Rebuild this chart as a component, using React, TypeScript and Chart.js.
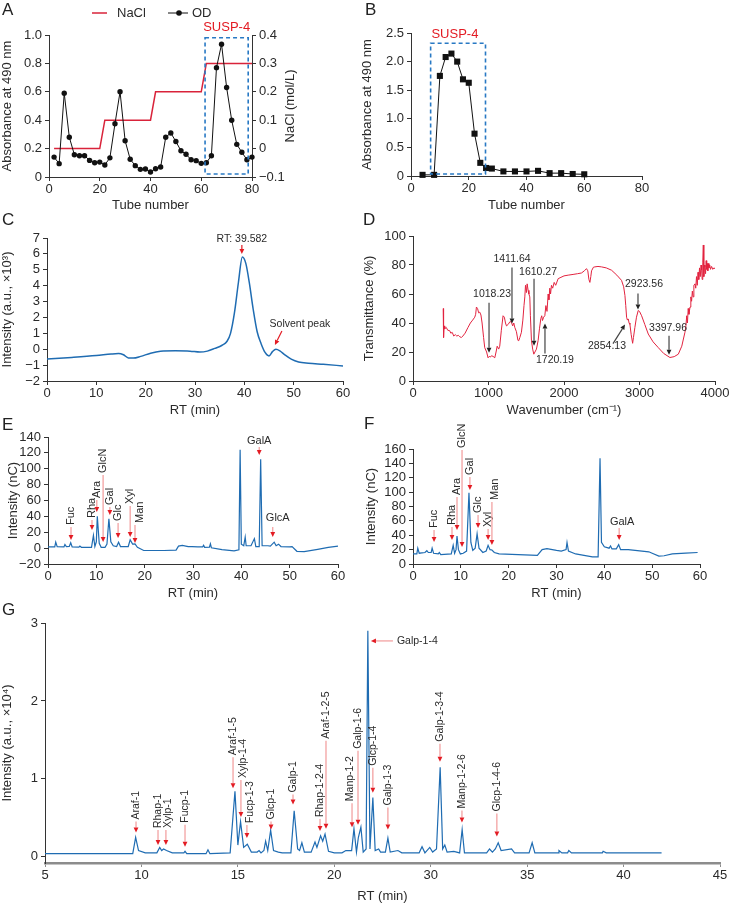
import React, { useEffect, useRef } from 'react';
import { Chart, registerables } from 'chart.js';

Chart.register(...registerables);

const FONT = "'Liberation Sans', Arial, Helvetica, sans-serif";
const TEXT = '#2a2a2a';
const AXIS = '#333333';
const BLUE = '#1f6cb2';
const RED = '#e31b23';
const PINK = '#f29a9a';
const IR_RED = '#e2233f';
const NACL_RED = '#d9233a';
const BOX_BLUE = '#2879c4';

// ---------------- Panel A: DEAE elution ----------------
const A_TUBES = [2, 4, 6, 8, 10, 12, 14, 16, 18, 20, 22, 24, 26, 28, 30, 32, 34, 36, 38, 40, 42, 44, 46, 48, 50, 52, 54, 56, 58, 60, 62, 64, 66, 68, 70, 72, 74, 76, 78, 80];
const A_OD = [0.14, 0.094, 0.59, 0.28, 0.157, 0.15, 0.15, 0.117, 0.1, 0.105, 0.085, 0.135, 0.375, 0.6, 0.255, 0.125, 0.08, 0.054, 0.056, 0.035, 0.058, 0.07, 0.28, 0.31, 0.25, 0.185, 0.16, 0.122, 0.115, 0.096, 0.1, 0.15, 0.77, 0.935, 0.63, 0.4, 0.23, 0.174, 0.122, 0.14];
const A_NACL_TUBES = [2, 20, 22, 40, 42, 60, 62, 80];
const A_NACL = [0, 0, 0.1, 0.1, 0.2, 0.2, 0.3, 0.3];
const A_BOX = { x0: 61.5, x1: 78.5, y0: 0.021, y1: 0.981 };

// ---------------- Panel B: gel filtration ----------------
const B_TUBES = [4, 8, 10, 12, 14, 16, 18, 20, 22, 24, 26, 28, 32, 36, 40, 44, 48, 52, 56, 60];
const B_OD = [0.02, 0.02, 1.75, 2.08, 2.14, 2.0, 1.69, 1.63, 0.74, 0.23, 0.14, 0.13, 0.08, 0.08, 0.08, 0.09, 0.05, 0.05, 0.035, 0.03];
const B_BOX = { x0: 6.8, x1: 25.8, y0: 0.035, y1: 2.32 };

// ---------------- Panel C: HPGPC ----------------
const C_CURVE = [
  [0, -0.62], [5, -0.52], [10, -0.4], [13, -0.3], [14.5, -0.27], [15.5, -0.35], [16.5, -0.55], [17.5, -0.56],
  [19, -0.45], [21, -0.25], [23, -0.13], [26, -0.1], [29, -0.12], [31, -0.18], [32.5, -0.12], [34, 0.05],
  [35.5, 0.25], [36.5, 0.5], [37.2, 1.0], [38, 2.3], [38.8, 4.2], [39.6, 5.8], [40.3, 5.4], [41, 4.2],
  [41.8, 2.5], [42.6, 1.1], [43.4, 0.35], [44.2, -0.2], [45, -0.42], [45.7, -0.15], [46.4, 0.0], [47.2, -0.1],
  [48.2, -0.35], [49.5, -0.62], [51, -0.8], [53, -0.88], [56, -0.95], [60, -1.05],
];

// ---------------- Panel D: FT-IR ----------------
const D_SPECTRUM = [
  [400, 50], [405, 30], [412, 38], [420, 36], [440, 37], [460, 35], [486, 34.7], [500, 33], [520, 33.5], [540, 31],
  [560, 32], [580, 31], [600, 31.5], [620, 30.5], [641, 30], [660, 31], [690, 33], [729, 37], [760, 40], [790, 42],
  [818, 44], [830, 46], [840, 51], [855, 50], [870, 47], [884, 47.5], [900, 45.5], [915, 40], [935, 30], [950, 23],
  [975, 20], [994, 16], [1010, 17], [1025, 16.5], [1039, 17.4], [1060, 17], [1083, 16], [1100, 20], [1115, 24], [1135, 22],
  [1149, 24], [1170, 35], [1193, 45], [1210, 44], [1225, 40], [1238, 38], [1260, 39], [1285, 41], [1304, 40.5], [1320, 38],
  [1335, 40], [1348, 37], [1370, 34], [1390, 28], [1401, 27.8], [1415, 30], [1436, 33.6], [1455, 42], [1470, 52], [1481, 58],
  [1490, 66], [1503, 61], [1512, 67], [1525, 62.5], [1535, 60], [1547, 58], [1555, 45], [1569, 27.8], [1585, 22], [1600, 18.5],
  [1615, 20], [1635, 22], [1657, 27.8], [1675, 36], [1693, 43], [1705, 45], [1715, 41.7], [1730, 44], [1746, 45], [1760, 52],
  [1775, 48], [1790, 60], [1800, 56], [1812, 64], [1822, 60], [1834, 66], [1850, 64], [1870, 68], [1890, 66], [1923, 70.6],
  [1960, 71.5], [2000, 72.5], [2055, 73], [2120, 73.5], [2180, 74], [2232, 74.5], [2270, 76], [2298, 77.5], [2315, 76], [2330, 70],
  [2343, 68], [2355, 72], [2365, 76], [2390, 78.5], [2409, 78.7], [2450, 79], [2497, 78.7], [2560, 78], [2630, 76.4], [2700, 73],
  [2762, 69.4], [2790, 65], [2807, 59], [2818, 52], [2829, 44], [2840, 42], [2851, 42.8], [2862, 40], [2873, 39], [2890, 32],
  [2909, 26], [2920, 30], [2939, 37], [2960, 44], [2983, 48.6], [3000, 48], [3028, 45], [3070, 39], [3116, 32.4], [3180, 27],
  [3249, 23], [3320, 19], [3403, 16.2], [3460, 16.8], [3514, 18.5], [3560, 24], [3602, 33.6], [3615, 38], [3625, 45], [3635, 40],
  [3645, 50], [3655, 46], [3669, 51], [3680, 58], [3690, 55], [3700, 62], [3710, 58], [3720, 66], [3735, 67], [3745, 64],
  [3755, 72], [3765, 66], [3775, 75], [3785, 70], [3795, 78], [3805, 72], [3815, 80], [3823, 76.4], [3830, 70], [3838, 82],
  [3845, 93.8], [3852, 72], [3860, 80], [3867, 78.7], [3875, 74], [3883, 83], [3890, 77], [3898, 81], [3905, 76], [3912, 81],
  [3920, 78], [3930, 80], [3940, 77], [3955, 79], [3970, 77], [3985, 78], [4000, 77.5],
];

// ---------------- Panel E: monosaccharide standards ----------------
const E_SIGNAL = [
  [0, 1.5], [1.4, 1.5], [1.6, 7.5], [1.9, 1.8], [3.3, 1.5], [3.5, 4.6], [3.8, 1.8], [4.4, 2], [4.7, 6.7], [5.0, 1.5],
  [6.4, 1.2], [6.6, 2.5], [6.9, 1], [9.0, 1], [9.4, 16], [9.7, 2], [10.0, 8], [10.2, 40], [10.6, 6], [11.0, 1],
  [11.8, 1], [12.2, 5], [12.6, 37], [13.0, 8], [13.5, 3], [14.2, 2], [14.6, 7.5], [15.0, 2], [16.6, 2], [17.0, 10.5],
  [17.5, 5], [18.0, 5.4], [18.5, 1], [19.8, -3], [21, -3], [24, -3], [26.5, -2.5], [27.0, 2.5], [27.8, 3.5], [29.0, 2],
  [29.8, 2], [31.0, 1.5], [32.0, 1.5], [32.2, 3.5], [32.4, 1], [33.4, 1.2], [33.6, 5.4], [33.8, 0.5], [36, -2], [38.5, -3.5],
  [39.5, -2], [39.75, 124], [40.0, 5], [40.5, 3], [40.8, 14], [41.0, 3], [42.0, 3], [42.7, 12], [43.0, 2], [43.7, 2],
  [44.0, 112], [44.3, 3], [45.5, 3], [46.0, 2.5], [46.8, 7.5], [47.2, 3], [47.7, 5], [48.2, 2], [50.0, 1.5], [50.5, 2],
  [51.5, -4], [53, -4.5], [55.8, -1.5], [58, 1], [60, 2.5],
];

// ---------------- Panel F: SUSP-4 hydrolysate ----------------
const F_SIGNAL = [
  [0, 14], [0.8, 14], [1.0, 22], [1.3, 15], [2.5, 16], [2.9, 18.5], [3.2, 16], [3.8, 16], [4.0, 22], [4.3, 15],
  [5.3, 14], [5.5, 16], [5.8, 13], [8.0, 14], [8.4, 26], [8.7, 15], [9.0, 20], [9.2, 39], [9.5, 20], [9.9, 14],
  [10.5, 15], [11.2, 18], [11.7, 99], [12.1, 30], [12.5, 19], [13.0, 22], [13.4, 42], [13.8, 22], [14.6, 16], [15.3, 18],
  [15.7, 26], [16.1, 20], [16.5, 19.5], [17, 16], [18, 14], [22, 13], [26, 12], [27, 20], [28, 21.5], [30, 19],
  [31, 18], [32, 20], [32.2, 30], [32.5, 18], [34, 14], [37.5, 10], [38.7, 10], [39.1, 147], [39.4, 30], [40, 24],
  [41, 22], [41.3, 25], [41.6, 21], [42.5, 21], [43, 27], [43.4, 20], [45, 20], [49.3, 17], [50, 15], [51.4, 11],
  [52.5, 11.5], [54.2, 14], [57, 15], [59.5, 16],
];

// ---------------- Panel G: GC-MS methylation ----------------
const G_TICK_LABELS = ['5', '10', '15', '20', '30', '35', '40', '45'];
const G_SIGNAL = [
  [5, 0.04], [9.55, 0.04], [9.7, 0.25], [9.85, 0.08], [10.2, 0.05], [10.8, 0.05], [10.95, 0.12], [11.05, 0.08], [11.15, 0.1], [11.3, 0.08],
  [11.6, 0.05], [12.2, 0.05], [12.26, 0.07], [12.35, 0.04], [13.35, 0.04], [13.45, 0.09], [13.55, 0.04], [14.6, 0.05], [14.85, 0.84], [15.0, 0.15],
  [15.14, 0.45], [15.3, 0.12], [15.49, 0.16], [15.7, 0.06], [16.0, 0.06], [16.1, 0.08], [16.2, 0.05], [16.35, 0.08], [16.44, 0.2], [16.55, 0.08],
  [16.7, 0.34], [16.85, 0.08], [17.1, 0.06], [17.3, 0.05], [17.75, 0.05], [17.92, 0.59], [18.1, 0.1], [18.2, 0.08], [18.32, 0.18], [18.45, 0.06],
  [18.8, 0.06], [19.0, 0.19], [19.1, 0.12], [19.29, 0.27], [19.4, 0.2], [19.52, 0.29], [19.7, 0.07], [20.0, 0.05], [20.4, 0.05], [20.6, 0.08],
  [20.9, 0.08], [21.02, 0.36], [21.15, 0.06], [21.25, 0.25], [21.38, 0.38], [21.5, 0.06], [21.65, 0.1], [21.74, 2.9], [21.85, 0.1], [22.0, 0.76],
  [22.12, 0.08], [22.3, 0.1], [22.4, 0.06], [22.65, 0.06], [22.78, 0.24], [22.9, 0.06], [23.3, 0.08], [23.5, 0.05], [24.4, 0.05], [24.55, 0.13],
  [24.7, 0.05], [24.95, 0.12], [25.1, 0.06], [25.3, 0.1], [25.49, 1.15], [25.62, 0.1], [25.73, 0.15], [25.85, 0.06], [26.2, 0.07], [26.5, 0.05],
  [26.63, 0.35], [26.75, 0.05], [27.9, 0.05], [28.05, 0.1], [28.2, 0.06], [28.35, 0.1], [28.5, 0.18], [28.65, 0.08], [29.19, 0.1], [29.35, 0.05],
  [30.1, 0.05], [30.26, 0.18], [30.4, 0.05], [31.6, 0.05], [31.65, 0.08], [31.8, 0.05], [32.1, 0.05], [32.16, 0.08], [32.3, 0.05], [33.9, 0.05],
  [33.94, 0.07], [34.1, 0.05], [36.97, 0.05],
];

// ---------------- Annotations (data-space anchor + pixel offsets) ----------------
type Ann = { t: string; x: number; y: number; tail: [number, number]; text: [number, number]; rot?: boolean; align?: CanvasTextAlign };
const rotAnn = (t: string, x: number, y: number, len: number, dx = 0): Ann => ({ t, x, y, tail: [0, -len], text: [dx, -len - 2], rot: true });

const C_ANN: Ann[] = [
  { t: 'RT: 39.582', x: 39.5, y: 6.0, tail: [0, -9], text: [0, -15] },
  { t: 'Solvent peak', x: 46.2, y: 0.27, tail: [7, -14], text: [25, -21] },
];

const D_ANN: Ann[] = [
  { t: '1018.23', x: 1007, y: 19.4, tail: [0, -50], text: [3, -59] },
  { t: '1411.64', x: 1311, y: 39.6, tail: [0, -56], text: [0, -64] },
  { t: '1610.27', x: 1603, y: 24.3, tail: [0, -67], text: [4, -74] },
  { t: '1720.19', x: 1748, y: 39.6, tail: [0, 30], text: [10, 37] },
  { t: '2854.13', x: 2808, y: 38.9, tail: [-12, 19], text: [-18, 22] },
  { t: '2923.56', x: 2980, y: 49.3, tail: [0, -16], text: [6, -25] },
  { t: '3397.96', x: 3391, y: 18.1, tail: [0, -19], text: [-1, -27] },
];

const E_ANN: Ann[] = [
  rotAnn('Fuc', 4.76, 10.2, 13),
  rotAnn('Rha', 9.1, 22.8, 10),
  rotAnn('Ara', 10.1, 45.5, 12),
  rotAnn('GlcN', 11.4, 7.7, 67),
  rotAnn('Gal', 12.8, 41.7, 8),
  rotAnn('Glc', 14.5, 12.8, 15),
  rotAnn('Xyl', 17.0, 14.0, 31),
  rotAnn('Man', 18.0, 6.5, 18, 5),
  { t: 'GalA', x: 43.7, y: 117.3, tail: [0, -8], text: [0, -14] },
  { t: 'GlcA', x: 46.5, y: 14.0, tail: [0, -10], text: [5, -19] },
];

const F_ANN: Ann[] = [
  rotAnn('Fuc', 4.4, 30.6, 12),
  rotAnn('Rha', 8.15, 33.4, 13),
  rotAnn('Ara', 9.2, 47.3, 33),
  rotAnn('GlcN', 10.25, 23.7, 97),
  rotAnn('Gal', 11.9, 103, 13),
  rotAnn('Glc', 13.6, 50, 13),
  rotAnn('Xyl', 15.7, 33.4, 11),
  rotAnn('Man', 16.5, 26.4, 43, 3),
  { t: 'GalA', x: 43.1, y: 33.4, tail: [0, -12], text: [3, -18] },
];

const G_ANN: Ann[] = [
  rotAnn('Araf-1', 9.72, 0.31, 11),
  rotAnn('Rhap-1', 10.86, 0.15, 15),
  rotAnn('Xylp-1', 11.27, 0.15, 15, 2),
  rotAnn('Fucp-1', 12.26, 0.13, 22),
  rotAnn('Araf-1-5', 14.75, 0.88, 31),
  rotAnn('Xylp-1-4', 15.16, 0.51, 37, 2),
  rotAnn('Fucp-1-3', 15.47, 0.24, 13, 3),
  rotAnn('Glcp-1', 16.72, 0.35, 8),
  rotAnn('Galp-1', 17.86, 0.67, 10),
  rotAnn('Rhap-1-2-4', 19.26, 0.33, 12),
  rotAnn('Araf-1-2-5', 19.57, 0.36, 88),
  rotAnn('Manp-1-2', 20.92, 0.38, 24, -2),
  rotAnn('Galp-1-6', 21.23, 0.41, 74),
  rotAnn('Glcp-1-4', 22.0, 0.82, 25),
  rotAnn('Galp-1-3', 22.78, 0.35, 22),
  rotAnn('Galp-1-3-4', 25.48, 1.22, 18),
  rotAnn('Manp-1-2-6', 26.62, 0.44, 12),
  rotAnn('Glcp-1-4-6', 28.43, 0.26, 23),
  { t: 'Galp-1-4', x: 21.9, y: 2.77, tail: [22, 0], text: [26, 0], align: 'left' },
];

// ---------------- helpers ----------------
const fmt1 = (v: number) => (Math.abs(v) < 1e-9 ? '0' : v.toFixed(1).replace('-', '\u2212'));
const fmt0 = (v: number) => String(Math.round(v)).replace('-', '\u2212');
const pts = (xs: number[], ys: number[]) => xs.map((x, i) => ({ x, y: ys[i] }));
const pairs = (arr: number[][]) => arr.map(([x, y]) => ({ x, y }));

type AxisOpt = {
  pos: 'left' | 'right' | 'bottom'; min: number; max: number; step: number; fit: number;
  title?: string; fmt?: (v: number) => string; color?: string; width?: number; bounds?: boolean;
};
function axis(o: AxisOpt) {
  const horiz = o.pos === 'bottom';
  return {
    type: 'linear', position: o.pos, min: o.min, max: o.max,
    ticks: {
      stepSize: o.step, autoSkip: false, maxRotation: 0, minRotation: 0,
      includeBounds: o.bounds ?? true, padding: horiz ? 1 : 3, color: TEXT,
      font: { family: FONT, size: 13 },
      callback: (v: number) => (o.fmt ? o.fmt(v) : fmt0(v)),
    },
    grid: { display: true, drawOnChartArea: false, drawTicks: true, tickLength: 4, tickWidth: 1, color: o.color ?? AXIS, lineWidth: 1 },
    border: { display: true, color: o.color ?? AXIS, width: o.width ?? 1 },
    title: o.title
      ? { display: true, text: o.title, color: TEXT, font: { family: FONT, size: 13 }, padding: 0 }
      : { display: false },
    afterFit: (s: any) => { if (horiz) s.height = o.fit; else s.width = o.fit; },
  };
}

function baseOptions(top: number, right: number, scales: any) {
  return {
    responsive: false, maintainAspectRatio: false, animation: false, devicePixelRatio: 1, events: [],
    layout: { padding: { top, right, left: 0, bottom: 0 } },
    plugins: { legend: { display: false }, tooltip: { enabled: false }, title: { display: false } },
    scales,
  };
}

const line = (data: any[], color: string, width: number, extra: any = {}) => ({
  data, borderColor: color, backgroundColor: color, borderWidth: width, pointRadius: 0,
  tension: 0, fill: false, ...extra,
});

function drawArrow(ctx: CanvasRenderingContext2D, tx: number, ty: number, hx: number, hy: number, stem: string, head: string, hl = 5, hw = 2.4) {
  const ang = Math.atan2(hy - ty, hx - tx);
  const len = Math.hypot(hx - tx, hy - ty);
  const bx = hx - hl * Math.cos(ang);
  const by = hy - hl * Math.sin(ang);
  if (len > hl) {
    ctx.strokeStyle = stem; ctx.lineWidth = 1.2; ctx.setLineDash([]);
    ctx.beginPath(); ctx.moveTo(tx, ty); ctx.lineTo(bx, by); ctx.stroke();
  }
  ctx.fillStyle = head;
  ctx.beginPath();
  ctx.moveTo(hx, hy);
  ctx.lineTo(bx - hw * Math.sin(ang), by + hw * Math.cos(ang));
  ctx.lineTo(bx + hw * Math.sin(ang), by - hw * Math.cos(ang));
  ctx.closePath(); ctx.fill();
}

function drawAnns(chart: any, anns: Ann[], size: number, stem: string, head: string) {
  const ctx: CanvasRenderingContext2D = chart.ctx;
  const xs = chart.scales.x; const ys = chart.scales.y;
  ctx.save();
  ctx.font = `${size}px ${FONT}`;
  for (const a of anns) {
    const hx = xs.getPixelForValue(a.x); const hy = ys.getPixelForValue(a.y);
    drawArrow(ctx, hx + a.tail[0], hy + a.tail[1], hx, hy, stem, head);
    ctx.fillStyle = TEXT;
    ctx.textBaseline = 'middle';
    if (a.rot) {
      ctx.save();
      ctx.translate(hx + a.text[0], hy + a.text[1]);
      ctx.rotate(-Math.PI / 2);
      ctx.textAlign = 'left';
      ctx.fillText(a.t, 0, 0);
      ctx.restore();
    } else {
      ctx.textAlign = a.align ?? 'center';
      ctx.fillText(a.t, hx + a.text[0], hy + a.text[1]);
    }
  }
  ctx.restore();
}

function drawBox(chart: any, box: { x0: number; x1: number; y0: number; y1: number }, label: string, lx: number, ly: number, yId = 'y') {
  const ctx: CanvasRenderingContext2D = chart.ctx;
  const xs = chart.scales.x; const ys = chart.scales[yId];
  const x0 = xs.getPixelForValue(box.x0); const x1 = xs.getPixelForValue(box.x1);
  const y0 = ys.getPixelForValue(box.y0); const y1 = ys.getPixelForValue(box.y1);
  ctx.save();
  ctx.strokeStyle = BOX_BLUE; ctx.lineWidth = 1.6; ctx.setLineDash([4, 3]);
  ctx.strokeRect(x0, y1, x1 - x0, y0 - y1);
  ctx.setLineDash([]);
  ctx.fillStyle = RED; ctx.font = `13px ${FONT}`; ctx.textAlign = 'center'; ctx.textBaseline = 'middle';
  ctx.fillText(label, xs.getPixelForValue(lx), ys.getPixelForValue(ly));
  ctx.restore();
}

// ---------------- chart configs ----------------
const aConfig = () => ({
  type: 'line',
  data: {
    datasets: [
      line(pts(A_TUBES, A_OD), '#111', 1, { yAxisID: 'y', pointRadius: 2.7, pointBackgroundColor: '#111', pointBorderWidth: 0, clip: false }),
      line(pts(A_NACL_TUBES, A_NACL), NACL_RED, 1.5, { yAxisID: 'y2', clip: false }),
    ],
  },
  options: baseOptions(35, 0, {
    x: axis({ pos: 'bottom', min: 0, max: 80, step: 20, fit: 36, title: 'Tube number' }),
    y: axis({ pos: 'left', min: 0, max: 1, step: 0.2, fit: 49, title: 'Absorbance at 490 nm', fmt: fmt1 }),
    y2: axis({ pos: 'right', min: -0.1, max: 0.4, step: 0.1, fit: 46, fmt: fmt1 }),
  }),
  plugins: [{
    id: 'aExtra',
    afterDraw(chart: any) {
      drawBox(chart, A_BOX, 'SUSP-4', 70, 1.055);
      const ctx: CanvasRenderingContext2D = chart.ctx;
      const ca = chart.chartArea; const y2 = chart.scales.y2;
      ctx.save();
      ctx.font = `13px ${FONT}`; ctx.fillStyle = TEXT; ctx.textBaseline = 'middle';
      // right axis title, reading bottom-to-top
      ctx.save();
      ctx.translate(y2.right - 7.8, (ca.top + ca.bottom) / 2);
      ctx.rotate(-Math.PI / 2); ctx.textAlign = 'center';
      ctx.fillText('NaCl (mol/L)', 0, 0);
      ctx.restore();
      // legend
      ctx.strokeStyle = NACL_RED; ctx.lineWidth = 1.5;
      ctx.beginPath(); ctx.moveTo(92, 13); ctx.lineTo(107, 13); ctx.stroke();
      ctx.textAlign = 'left'; ctx.fillText('NaCl', 117, 13);
      ctx.strokeStyle = '#111'; ctx.lineWidth = 1;
      ctx.beginPath(); ctx.moveTo(168, 13); ctx.lineTo(188, 13); ctx.stroke();
      ctx.fillStyle = '#111'; ctx.beginPath(); ctx.arc(179, 13, 2.8, 0, Math.PI * 2); ctx.fill();
      ctx.fillStyle = TEXT; ctx.fillText('OD', 192, 13);
      ctx.restore();
    },
  }],
});

const bConfig = () => ({
  type: 'line',
  data: {
    datasets: [
      line(pts(B_TUBES, B_OD), '#111', 1, { pointStyle: 'rect', pointRadius: 4.3, pointBackgroundColor: '#111', pointBorderWidth: 0, clip: false }),
    ],
  },
  options: baseOptions(33, 23, {
    x: axis({ pos: 'bottom', min: 0, max: 80, step: 20, fit: 37, title: 'Tube number' }),
    y: axis({ pos: 'left', min: 0, max: 2.5, step: 0.5, fit: 51, title: 'Absorbance at 490 nm', fmt: fmt1 }),
  }),
  plugins: [{ id: 'bExtra', afterDraw(chart: any) { drawBox(chart, B_BOX, 'SUSP-4', 15.2, 2.48); } }],
});

const cConfig = () => ({
  type: 'line',
  data: { datasets: [line(pairs(C_CURVE), BLUE, 1.5, { cubicInterpolationMode: 'monotone' })] },
  options: baseOptions(18, 17, {
    x: axis({ pos: 'bottom', min: 0, max: 60, step: 10, fit: 37, title: 'RT (min)' }),
    y: axis({ pos: 'left', min: -2, max: 7, step: 1, fit: 47, title: 'Intensity (a.u., \u00d710\u00b3)' }),
  }),
  plugins: [{ id: 'cExtra', afterDraw(chart: any) { drawAnns(chart, C_ANN, 10.5, RED, RED); } }],
});

const dConfig = () => ({
  type: 'line',
  data: { datasets: [line(pairs(D_SPECTRUM), IR_RED, 1)] },
  options: baseOptions(16, 16, {
    x: axis({ pos: 'bottom', min: 0, max: 4000, step: 1000, fit: 37, title: 'Wavenumber (cm\u207b\u00b9)' }),
    y: axis({ pos: 'left', min: 0, max: 100, step: 20, fit: 51, title: 'Transmittance (%)' }),
  }),
  plugins: [{ id: 'dExtra', afterDraw(chart: any) { drawAnns(chart, D_ANN, 10.5, '#444', '#222'); } }],
});

const eConfig = () => ({
  type: 'line',
  data: { datasets: [line(pairs(E_SIGNAL), BLUE, 1.2)] },
  options: baseOptions(17, 22, {
    x: axis({ pos: 'bottom', min: 0, max: 60, step: 10, fit: 37, title: 'RT (min)' }),
    y: axis({ pos: 'left', min: -20, max: 140, step: 20, fit: 42, title: 'Intensity (nC)' }),
  }),
  plugins: [{ id: 'eExtra', afterDraw(chart: any) { drawAnns(chart, E_ANN, 11, PINK, RED); } }],
});

const fConfig = () => ({
  type: 'line',
  data: { datasets: [line(pairs(F_SIGNAL), BLUE, 1.2)] },
  options: baseOptions(29, 31, {
    x: axis({ pos: 'bottom', min: 0, max: 60, step: 10, fit: 37, title: 'RT (min)' }),
    y: axis({ pos: 'left', min: 0, max: 160, step: 20, fit: 49, title: 'Intensity (nC)' }),
  }),
  plugins: [{ id: 'fExtra', afterDraw(chart: any) { drawAnns(chart, F_ANN, 11, PINK, RED); } }],
});

const gConfig = () => ({
  type: 'line',
  data: { datasets: [line(pairs(G_SIGNAL), BLUE, 1.2)] },
  options: baseOptions(23, 11, {
    x: axis({
      pos: 'bottom', min: 5, max: 40, step: 5, fit: 41, title: 'RT (min)', color: '#8c8c8c', width: 2.5,
      fmt: (v: number) => G_TICK_LABELS[Math.round((v - 5) / 5)] ?? '',
    }),
    y: axis({ pos: 'left', min: -0.08, max: 3, step: 1, fit: 45, bounds: false, title: 'Intensity (a.u., \u00d710\u2074)' }),
  }),
  plugins: [{ id: 'gExtra', afterDraw(chart: any) { drawAnns(chart, G_ANN, 10.5, PINK, RED); } }],
});

// ---------------- components ----------------
function Panel({ box, make }: { box: [number, number, number, number]; make: () => any }) {
  const ref = useRef<HTMLCanvasElement>(null);
  useEffect(() => {
    const chart = new Chart(ref.current as HTMLCanvasElement, make());
    return () => chart.destroy();
  }, []);
  return (
    <canvas
      ref={ref}
      width={box[2]}
      height={box[3]}
      style={{ position: 'absolute', left: box[0], top: box[1], width: box[2], height: box[3] }}
    />
  );
}

const LETTERS: [string, number, number][] = [
  ['A', 2, 1], ['B', 365, 1], ['C', 2, 211], ['D', 363, 211], ['E', 2, 416], ['F', 364, 415], ['G', 2, 601],
];

export default function App() {
  return (
    <div style={{ position: 'absolute', left: 0, top: 0, width: 731, height: 904, background: '#fff', overflow: 'hidden' }}>
      <Panel box={[0, 0, 298, 213]} make={aConfig} />
      <Panel box={[360, 0, 305, 213]} make={bConfig} />
      <Panel box={[0, 220, 360, 198]} make={cConfig} />
      <Panel box={[362, 220, 369, 198]} make={dConfig} />
      <Panel box={[6, 420, 354, 181]} make={eConfig} />
      <Panel box={[364, 420, 367, 181]} make={fConfig} />
      <Panel box={[0, 600, 731, 304]} make={gConfig} />
      {LETTERS.map(([t, x, y]) => (
        <div
          key={t}
          style={{ position: 'absolute', left: x, top: y, fontFamily: FONT, fontSize: 17, lineHeight: '17px', color: '#222' }}
        >
          {t}
        </div>
      ))}
    </div>
  );
}
